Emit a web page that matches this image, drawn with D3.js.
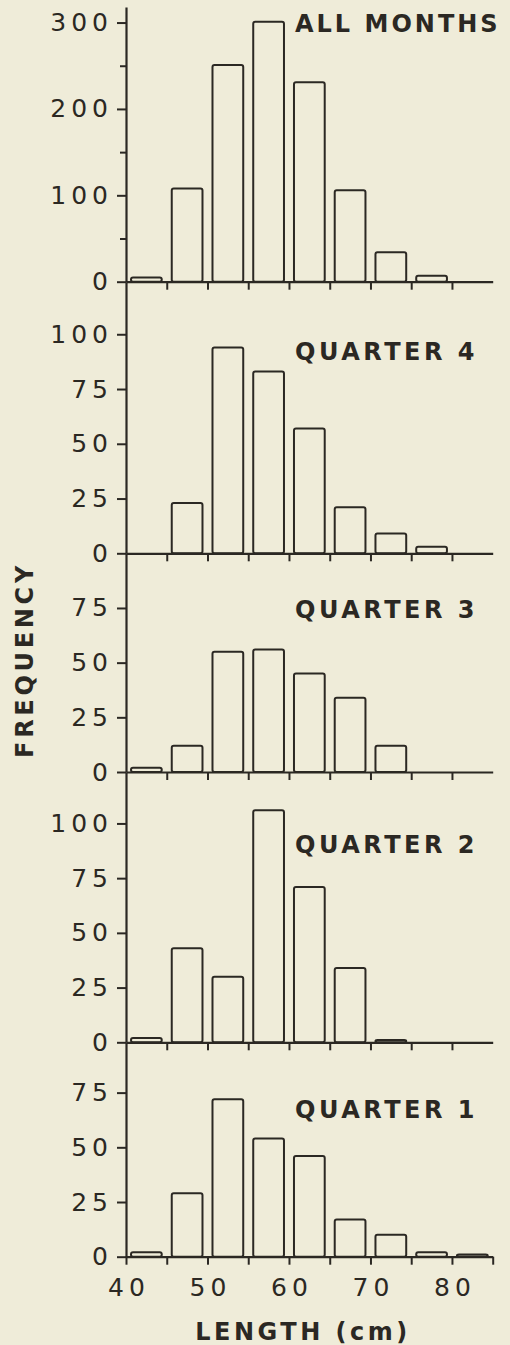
<!DOCTYPE html>
<html>
<head>
<meta charset="utf-8">
<script src="https://cdn.jsdelivr.net/npm/d3@7"></script>
<style>
  html, body { margin: 0; padding: 0; background: #efecd9; }
  svg { display: block; }
</style>
</head>
<body>
<div id="chart"></div>
<script>
// ---------------- data ----------------
const binStarts = [40, 45, 50, 55, 60, 65, 70, 75, 80];
const binWidth = 5;
const panelTitles = ["ALL MONTHS", "QUARTER 4", "QUARTER 3", "QUARTER 2", "QUARTER 1"];
const allMonths = [5, 108, 251, 301, 231, 106, 34, 7, 0];
const quarter4  = [0, 23, 94, 83, 57, 21, 9, 3, 0];
const quarter3  = [2, 12, 55, 56, 45, 34, 12, 0, 0];
const quarter2  = [2, 43, 30, 106, 71, 34, 1, 0, 0];
const quarter1  = [2, 29, 72, 54, 46, 17, 10, 2, 1];
const panelSeries = [allMonths, quarter4, quarter3, quarter2, quarter1];
const yMax = [318, 124, 100, 123.5, 98];
const yMajorTicks = [[0, 100, 200, 300], [0, 25, 50, 75, 100], [0, 25, 50, 75], [0, 25, 50, 75, 100], [0, 25, 50, 75]];
const yMinorTicks = [[50, 150, 250], [], [], [], []];
const xDomain = [40, 85];
const xTicks = [40, 45, 50, 55, 60, 65, 70, 75, 80, 85];
const xTickLabels = [40, 50, 60, 70, 80];
const xTitle = "LENGTH (cm)";
const yTitle = "FREQUENCY";

// ---------------- layout ----------------
const W = 510, H = 1345;
const ink = "#2b2823";
const left = 126, right = 492.7;
const panelTop0 = 7;
const panelHeights = [274.7, 271.6, 218.7, 270.3, 214.4];
const titleOffsets = [25, 78, 65, 81, 76]; // baseline below panel top
const barInset = 5;

const svg = d3.select("#chart").append("svg")
  .attr("width", W).attr("height", H);

const x = d3.scaleLinear().domain(xDomain).range([left, right]);

let panelTop = panelTop0;
panelSeries.forEach((series, i) => {
  const bottom = panelTop + panelHeights[i];
  const y = d3.scaleLinear().domain([0, yMax[i]]).range([bottom, panelTop]);
  const g = svg.append("g");
  const last = i === panelSeries.length - 1;

  // bars
  g.selectAll("rect.bar")
    .data(binStarts.map((b, k) => ({ b, v: series[k] })).filter(d => d.v > 0))
    .join("rect")
    .attr("class", "bar")
    .attr("x", d => x(d.b) + barInset)
    .attr("width", d => x(d.b + binWidth) - x(d.b) - 2 * barInset)
    .attr("y", d => y(d.v))
    .attr("height", d => Math.max(0.5, y(0) - y(d.v)))
    .attr("rx", 2).attr("ry", 2)
    .attr("fill", "none")
    .attr("stroke", ink)
    .attr("stroke-width", 2);

  // y axis (major)
  const yAxis = d3.axisLeft(y)
    .tickValues(yMajorTicks[i])
    .tickSize(9)
    .tickSizeOuter(0)
    .tickPadding(8)
    .tickFormat(d3.format("d"));
  const ya = g.append("g").attr("transform", `translate(${left},0)`).call(yAxis);
  ya.select(".domain").attr("stroke", ink).attr("stroke-width", 2.2);
  ya.selectAll(".tick line").attr("stroke", ink).attr("stroke-width", 2);
  ya.selectAll(".tick text")
    .attr("fill", ink)
    .style("font-family", "'DejaVu Sans', sans-serif")
    .style("font-size", "25px")
    .style("letter-spacing", "5px")
    .attr("dx", "4px");

  // y minor ticks
  if (yMinorTicks[i].length) {
    const yMinor = d3.axisLeft(y).tickValues(yMinorTicks[i]).tickSize(6).tickSizeOuter(0).tickFormat("");
    const ym = g.append("g").attr("transform", `translate(${left},0)`).call(yMinor);
    ym.select(".domain").remove();
    ym.selectAll(".tick line").attr("stroke", ink).attr("stroke-width", 2);
  }

  // x axis
  const xAxis = d3.axisBottom(x)
    .tickValues(last ? xTicks : xTicks.filter(t => t > xDomain[0] && t < xDomain[1]))
    .tickSize(8)
    .tickSizeOuter(0)
    .tickPadding(14)
    .tickFormat(d => (last && xTickLabels.includes(d)) ? d : "");
  const xa = g.append("g").attr("transform", `translate(0,${bottom})`).call(xAxis);
  xa.select(".domain").attr("stroke", ink).attr("stroke-width", 2.2);
  xa.selectAll(".tick line").attr("stroke", ink).attr("stroke-width", 2);
  xa.selectAll(".tick text")
    .attr("fill", ink)
    .style("font-family", "'DejaVu Sans', sans-serif")
    .style("font-size", "25px")
    .style("letter-spacing", "5px")
    .attr("dx", "2.5px");

  // panel title
  g.append("text")
    .attr("x", 295)
    .attr("y", panelTop + titleOffsets[i])
    .attr("fill", ink)
    .style("font-family", "'DejaVu Sans', sans-serif")
    .style("font-weight", "bold")
    .style("font-size", "24px")
    .style("letter-spacing", i === 0 ? "3px" : "3.5px")
    .text(panelTitles[i]);

  panelTop = bottom;
});

// axis titles
svg.append("text")
  .attr("transform", "translate(33,660) rotate(-90)")
  .attr("text-anchor", "middle")
  .attr("fill", ink)
  .style("font-family", "'DejaVu Sans', sans-serif")
  .style("font-weight", "bold")
  .style("font-size", "24px")
  .style("letter-spacing", "3.7px")
  .text(yTitle);

svg.append("text")
  .attr("x", 303)
  .attr("y", 1340)
  .attr("text-anchor", "middle")
  .attr("fill", ink)
  .style("font-family", "'DejaVu Sans', sans-serif")
  .style("font-weight", "bold")
  .style("font-size", "24px")
  .style("letter-spacing", "3.5px")
  .text(xTitle);
</script>
</body>
</html>
